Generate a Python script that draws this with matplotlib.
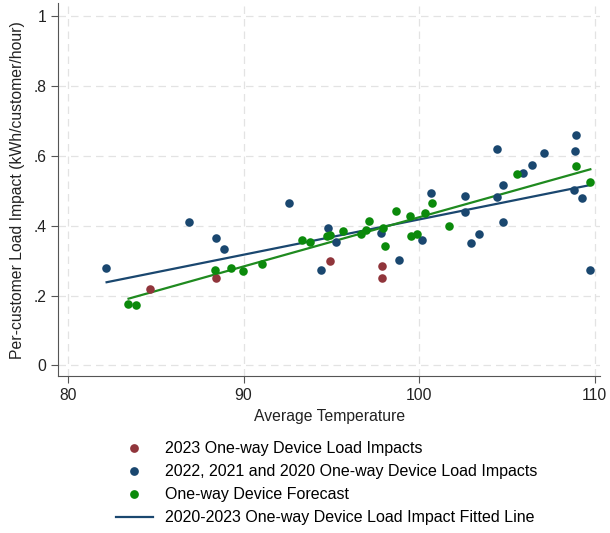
import matplotlib.pyplot as plt
import numpy as np
from matplotlib.lines import Line2D

plt.rcParams['font.family'] = ['Liberation Sans', 'DejaVu Sans']

# 2023 one-way device load impacts
temp_2023 = [84.7, 88.45, 94.9, 97.9, 97.9]
impact_2023 = [0.218, 0.251, 0.300, 0.284, 0.251]

# 2020-2022 one-way device load impacts
temp_prior = [82.15, 86.9, 88.45, 88.9, 92.6, 94.4, 94.8, 95.25, 97.85, 98.85,
              100.15, 100.7, 102.6, 102.6, 102.95, 103.4, 104.45, 104.45, 104.75,
              104.75, 105.9, 106.4, 107.1, 108.95, 108.85, 108.8, 109.25, 109.75]
impact_prior = [0.280, 0.411, 0.365, 0.334, 0.466, 0.274, 0.393, 0.352, 0.379, 0.302,
                0.359, 0.493, 0.486, 0.438, 0.349, 0.376, 0.618, 0.483, 0.517,
                0.410, 0.549, 0.574, 0.609, 0.659, 0.613, 0.501, 0.478, 0.273]

# one-way device forecast
temp_fc = [83.4, 83.9, 88.4, 89.3, 89.95, 91.05, 93.3, 93.8, 94.75, 94.95,
           95.65, 96.7, 96.95, 97.15, 97.95, 98.05, 98.7, 99.5, 99.55, 99.85,
           100.35, 100.75, 101.7, 105.6, 108.95, 109.75]
impact_fc = [0.175, 0.174, 0.274, 0.279, 0.270, 0.291, 0.359, 0.352, 0.369, 0.372,
             0.385, 0.376, 0.386, 0.414, 0.393, 0.343, 0.442, 0.428, 0.369, 0.376,
             0.437, 0.464, 0.400, 0.548, 0.571, 0.524]

# fitted lines (endpoints)
fit_temp = [82.2, 109.75]
fit_impact = [0.238, 0.516]
fc_fit_temp = [83.45, 109.75]
fc_fit_impact = [0.191, 0.561]

RED = '#90353b'
BLUE = '#1a476f'
GREEN = '#0b8a0b'

fig = plt.figure(figsize=(6.1, 5.33), dpi=100)
ax = fig.add_axes([0.0956, 0.294, 0.888, 0.700])

ax.plot(fit_temp, fit_impact, color=BLUE, lw=1.6, zorder=2)
ax.plot(fc_fit_temp, fc_fit_impact, color='#1f8a1f', lw=1.6, zorder=2)
ax.scatter(temp_prior, impact_prior, s=38, color=BLUE, lw=0, zorder=3)
ax.scatter(temp_2023, impact_2023, s=38, color=RED, lw=0, zorder=3)
ax.scatter(temp_fc, impact_fc, s=38, color=GREEN, lw=0, zorder=4)

ax.set_xlim(79.45, 110.3)
ax.set_ylim(-0.031, 1.036)
ax.set_xticks([80, 90, 100, 110])
ax.set_yticks([0, 0.2, 0.4, 0.6, 0.8, 1.0])
ax.set_yticklabels(['0', '.2', '.4', '.6', '.8', '1'])
ax.tick_params(labelsize=11.3, color='#555555', length=5, width=0.8, labelcolor='#222222')
ax.grid(True, color='#e3e3e3', linestyle=(0, (6, 4)), lw=0.9)
ax.set_axisbelow(True)
for side in ('top', 'right'):
    ax.spines[side].set_visible(False)
for side in ('left', 'bottom'):
    ax.spines[side].set_color('#555555')
    ax.spines[side].set_linewidth(0.8)

ax.set_xlabel('Average Temperature', fontsize=11.3, color='#222222', labelpad=4)
ax.set_ylabel('Per-customer Load Impact (kWh/customer/hour)', fontsize=11.3,
              color='#222222', labelpad=6)

handles = [
    Line2D([], [], ls='none', marker='o', ms=6.3, color=RED, mew=0),
    Line2D([], [], ls='none', marker='o', ms=6.3, color=BLUE, mew=0),
    Line2D([], [], ls='none', marker='o', ms=6.3, color=GREEN, mew=0),
    Line2D([], [], color=BLUE, lw=1.6),
]
labels = ['2023 One-way Device Load Impacts',
          '2022, 2021 and 2020 One-way Device Load Impacts',
          'One-way Device Forecast',
          '2020-2023 One-way Device Load Impact Fitted Line']
fig.legend(handles, labels, loc='upper left', bbox_to_anchor=(0.19, 0.172),
           frameon=False, fontsize=11.5, handlelength=2.3, handletextpad=0.8,
           labelspacing=0.5, borderpad=0, borderaxespad=0)

fig.savefig('out.png', dpi=100)
